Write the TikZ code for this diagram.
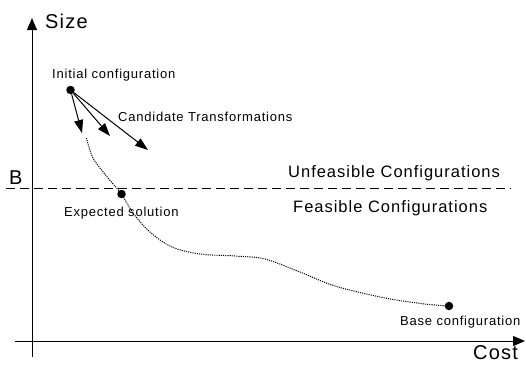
\documentclass[tikz,border=0pt]{standalone}
\usepackage{fontspec}
\setmainfont{Liberation Sans}
\newfontfamily\lblfont[LetterSpace=6]{Liberation Sans}
\usetikzlibrary{arrows.meta}
\begin{document}
\begin{tikzpicture}[x=1pt,y=-1pt,
  axis/.style={line width=1pt,-{Triangle[length=12pt,width=10pt]}},
  cand/.style={line width=1pt,-{Triangle[length=13pt,width=9pt]}},
  pt/.style={circle,fill=black,inner sep=0pt,minimum size=8.5pt},
  big/.style={inner sep=0pt,anchor=base west,font=\lblfont\fontsize{20}{24}\selectfont},
  mid/.style={inner sep=0pt,anchor=base west,font=\lblfont\fontsize{16.5}{20}\selectfont},
  small/.style={inner sep=0pt,anchor=base west,font=\lblfont\fontsize{13}{16}\selectfont},
  path/.style={line width=1pt,dash pattern=on 1.1pt off 1.1pt}]
\useasboundingbox (0,0) rectangle (526,364);

% axes
\coordinate (yb) at (32,357);
\coordinate (yt) at (32,18);
\coordinate (xl) at (15,341);
\coordinate (xr) at (525,341);
\draw[axis] (yb) -- (yt);
\draw[axis] (xl) -- (xr);
\node[big] (size) at (45,28.5) {Size};
\node[big] (cost) at (473,359.5) {Cost};

% bound B
\coordinate (bl) at (6,188);
\coordinate (br) at (511,188);
\draw[line width=1pt,dash pattern=on 9pt off 5pt] (bl) -- (br);
\node[big] (blabel) at (9,184) {B};
\node[mid] (unf) at (288,177) {Unfeasible Configurations};
\node[mid] (fea) at (293,212) {Feasible Configurations};

% configurations
\node[pt] (init) at (70.5,90) {};
\node[pt] (exp) at (121.5,194) {};
\node[pt] (base) at (449,306) {};
\node[small] (initl) at (52,78.5) {Initial configuration};
\node[small] (expl) at (64,216.5) {Expected solution};
\node[small] (basel) at (400,325.5) {Base configuration};
\node[small] (candl) at (118,121) {Candidate Transformations};

% candidate transformations
\coordinate (c1) at (82,133);
\coordinate (c2) at (110,136);
\coordinate (c3) at (148,150);
\draw[cand] (init) -- (c1);
\draw[cand] (init) -- (c2);
\draw[cand] (init) -- (c3);

% search path
\coordinate (ps) at (86.5,138);
\draw[path] plot[smooth,tension=0.55] coordinates {(ps) (93,158) (108,178) (exp) (133,213) (150,232) (172,247) (200,254) (235,256) (265,259) (300,272) (335,286) (385,298) (425,304) (base)};
\end{tikzpicture}
\end{document}
